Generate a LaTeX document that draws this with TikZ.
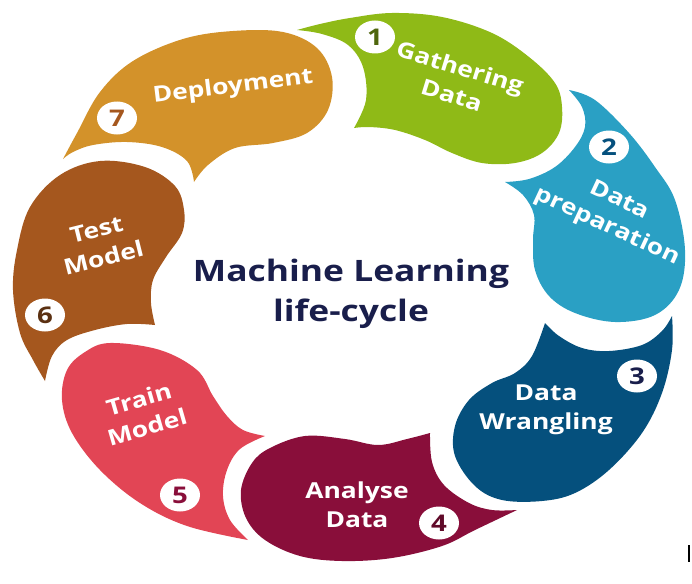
\documentclass[tikz,border=0pt]{standalone}
\usepackage{fontspec}
\setmainfont{Open Sans}[FakeStretch=1.2]
\usepackage{tikz}
\usetikzlibrary{shapes.geometric}

\definecolor{gatherclr}{HTML}{8FBA17}
\definecolor{prepclr}{HTML}{2AA0C4}
\definecolor{wrangleclr}{HTML}{05507D}
\definecolor{analyseclr}{HTML}{890E3A}
\definecolor{trainclr}{HTML}{E24555}
\definecolor{testclr}{HTML}{A5571E}
\definecolor{deployclr}{HTML}{D3922A}
\definecolor{titleclr}{HTML}{191E4B}

\begin{document}
\begin{tikzpicture}[x=1pt, y=-1pt,
    num/.style={ellipse, fill=white, minimum width=40pt, minimum height=33pt, inner sep=0pt, font=\fontsize{23}{23}\selectfont\bfseries},
    lbl/.style={text=white, align=center, font=\fontsize{22}{29}\selectfont\bfseries},
    title/.style={text=titleclr, align=center, font=\fontsize{29.5}{40}\selectfont\bfseries}
]
\useasboundingbox (0,0) rectangle (692,583);

% blobs, clockwise from the top
\fill[gatherclr] plot[smooth, tension=0.6] coordinates {(297,30) (320,24) (350,18) (392,13) (442,17) (492,33) (529,57) (555,83) (562,107) (559,133) (542,153) (515,163) (482,163) (452,153) (425,140) (395,130) (369,127) (354,128)}
  -- plot[smooth, tension=0.6] coordinates {(354,128) (366,100) (363,67) (348,45) (322,34) (297,30)} -- cycle;
\fill[prepclr] plot[smooth, tension=0.6] coordinates {(569,90) (595,100) (629,133) (655,167) (675,200) (685,250) (679,290) (655,315) (615,322) (575,313) (549,296) (535,270) (533,240) (534,215) (523,195) (505,182)}
  -- plot[smooth, tension=0.6] coordinates {(505,182) (529,179) (555,167) (575,147) (585,127) (582,107) (569,90)} -- cycle;
\fill[wrangleclr] plot[smooth, tension=0.6] coordinates {(672,316) (672,350) (662,393) (642,433) (609,470) (575,493) (542,501) (502,500) (475,486) (455,456) (455,426) (469,400) (492,383) (515,373) (532,356) (545,323)}
  -- plot[smooth, tension=0.6] coordinates {(545,323) (559,336) (582,348) (609,351) (642,345) (662,331) (672,316)} -- cycle;
\fill[analyseclr] plot[smooth, tension=0.6] coordinates {(517,510) (475,530) (442,546) (392,558) (342,561) (300,556) (265,540) (246,518) (241,490) (252,463) (270,448) (305,436) (345,439) (378,445) (407,439) (430,433)}
  -- plot[smooth, tension=0.6] coordinates {(430,433) (432,462) (444,485) (469,503) (492,510) (517,510)} -- cycle;
\fill[trainclr] plot[smooth, tension=0.6] coordinates {(248,540) (187,526) (140,503) (100,470) (72,433) (62,400) (67,370) (85,352) (110,343) (160,350) (197,370) (213,396) (227,416) (243,430) (265,436)}
  -- plot[smooth, tension=0.6] coordinates {(265,436) (240,449) (227,470) (223,496) (230,520) (248,540)} -- cycle;
\fill[testclr] plot[smooth, tension=0.6] coordinates {(45,381) (33,360) (20,333) (13,290) (17,250) (30,207) (60,175) (100,161) (145,167) (175,186) (184,210) (182,233) (166,257) (153,280) (151,303) (155,325)}
  -- plot[smooth, tension=0.6] coordinates {(155,325) (127,324) (95,330) (67,340) (52,356) (45,381)} -- cycle;
\fill[deployclr] plot[smooth, tension=0.6] coordinates {(63,159) (77,133) (100,92) (133,61) (183,39) (233,31) (283,32) (317,48) (332,77) (328,110) (307,133) (273,143) (235,148) (208,165) (194,182)}
  -- plot[smooth, tension=0.6] coordinates {(194,182) (187,161) (162,147) (127,142) (93,145) (73,152) (63,159)} -- cycle;

% step numbers
\node[num, text=gatherclr!55!black] (n1) at (375,37) {1};
\node[num, text=wrangleclr] (n2) at (609,147) {2};
\node[num, text=titleclr] (n3) at (637,376) {3};
\node[num, text=analyseclr!70!black] (n4) at (439,523) {4};
\node[num, text=analyseclr] (n5) at (180,495) {5};
\node[num, text=testclr!55!black] (n6) at (45,315) {6};
\node[num, text=testclr] (n7) at (117,118) {7};

% step labels
\node[lbl, rotate=-17] (gather) at (456,81) {Gathering\\Data};
\node[lbl, rotate=-25] (prep) at (613,214) {Data\\preparation};
\node[lbl] (wrangle) at (546,410) {Data\\Wrangling};
\node[lbl] (analyse) at (357,505) {Analyse\\Data};
\node[lbl, rotate=16] (train) at (143,413) {Train\\Model};
\node[lbl, rotate=14] (test) at (100,244) {Test\\Model};
\node[lbl, rotate=7] (deploy) at (233,87) {Deployment};

\node[title] (mltitle) at (351,294) {Machine Learning\\life-cycle};

\draw[line width=1.2pt] (689,545) -- (689,562);
\end{tikzpicture}
\end{document}
